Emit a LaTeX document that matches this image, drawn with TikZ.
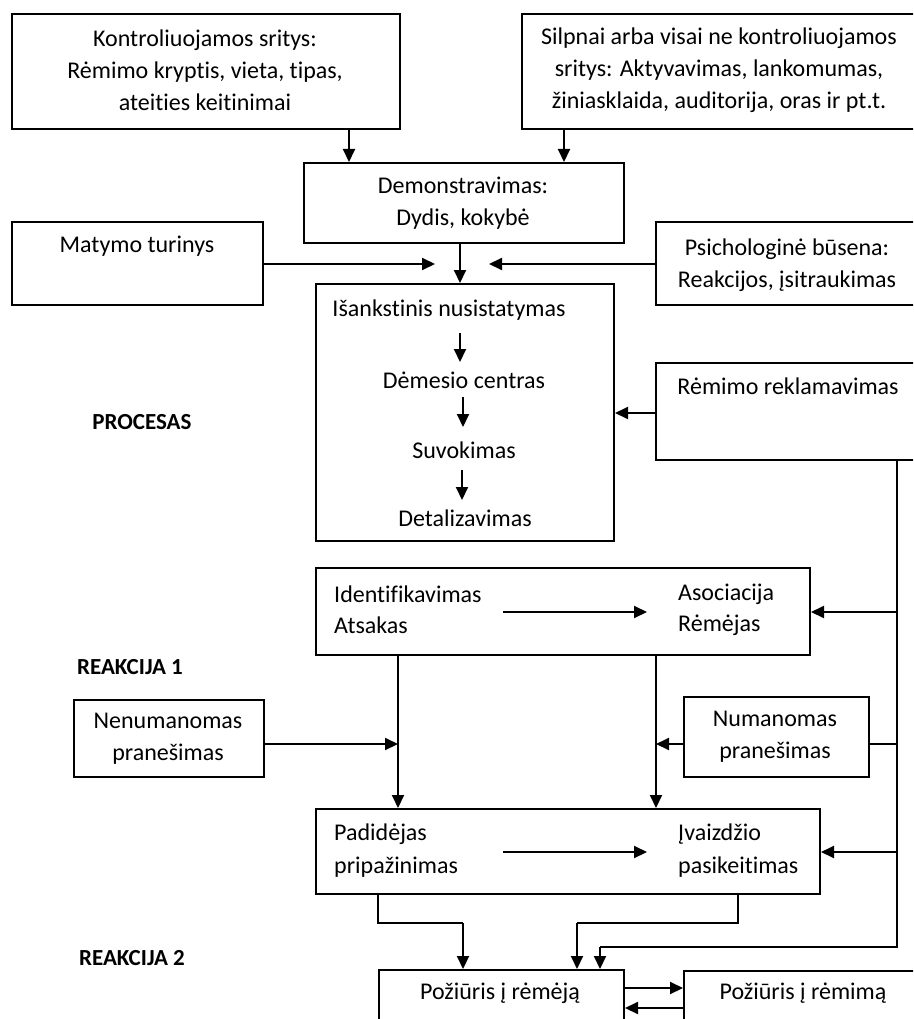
\documentclass[tikz,border=0pt]{standalone}
\usepackage{fontspec}
\setmainfont[Ligatures=NoCommon]{Carlito}
\usetikzlibrary{arrows.meta}
\begin{document}
\begin{tikzpicture}[x=1pt,y=-1pt,
  box/.style={draw,line width=2pt,anchor=north west,inner sep=0pt},
  txt/.style={font=\fontsize{24}{32}\selectfont,inner sep=0pt,anchor=center,align=center},
  ltxt/.style={font=\fontsize{24}{32}\selectfont,inner sep=0pt,anchor=west},
  head/.style={font=\fontsize{23}{32}\selectfont\bfseries,inner sep=0pt,anchor=center},
  arr/.style={line width=2pt,-{Triangle[length=13pt,width=12pt]}},
  ln/.style={line width=2pt}]
\useasboundingbox (0,0) rectangle (913,1019);
\clip (0,0) rectangle (913,1019);
\fill[white] (0,0) rectangle (913,1019);

% boxes
\node[box,minimum width=388pt,minimum height=115pt] (K) at (11,13) {};
\node[box,minimum width=400pt,minimum height=115pt] (S) at (521,13) {};
\node[box,minimum width=320pt,minimum height=80pt] (D) at (303,162) {};
\node[box,minimum width=251pt,minimum height=83pt] (M) at (11,221) {};
\node[box,minimum width=266pt,minimum height=83pt] (P) at (655,221) {};
\node[box,minimum width=298pt,minimum height=257pt] (I) at (315,283) {};
\node[box,minimum width=266pt,minimum height=97pt] (R) at (655,362) {};
\node[box,minimum width=494pt,minimum height=87pt] (ID) at (315,567) {};
\node[box,minimum width=190pt,minimum height=77pt] (N) at (73,699) {};
\node[box,minimum width=185pt,minimum height=80pt] (NU) at (683,696) {};
\node[box,minimum width=504pt,minimum height=85pt] (PA) at (315,808) {};
\node[box,minimum width=245pt,minimum height=90pt] (PR1) at (378,969) {};
\node[box,minimum width=239pt,minimum height=90pt] (PR2) at (683,970) {};

% texts
\node[txt] (tK) at (205,70) {Kontroliuojamos sritys:\\Rėmimo kryptis, vieta, tipas,\\ateities keitinimai};
\node[txt] (tS) at (719,70) {Silpnai arba visai ne kontroliuojamos\\sritys: Aktyvavimas, lankomumas,\\žiniasklaida, auditorija, oras ir pt.t.};
\node[txt] (tD) at (463,203) {Demonstravimas:\\Dydis, kokybė};
\node[txt] (tM) at (137,246) {Matymo turinys};
\node[txt] (tP) at (787,265) {Psichologinė būsena:\\Reakcijos, įsitraukimas};
\node[txt] (i1) at (449,310) {Išankstinis nusistatymas};
\node[txt] (i2) at (464,380) {Dėmesio centras};
\node[txt] (i3) at (464,450) {Suvokimas};
\node[txt] (i4) at (465,518) {Detalizavimas};
\node[txt] (tR) at (788,386) {Rėmimo reklamavimas};
\node[head] (h1) at (142,422) {PROCESAS};
\node[ltxt] (id1) at (334,594) {Identifikavimas};
\node[ltxt] (id2) at (334,625) {Atsakas};
\node[ltxt] (id3) at (678,594) {Asociacija};
\node[ltxt] (id4) at (678,625) {Rėmėjas};
\node[head] (h2) at (130,667) {REAKCIJA 1};
\node[txt] (tN) at (168,739) {Nenumanomas\\pranešimas};
\node[txt] (tNU) at (775,737) {Numanomas\\pranešimas};
\node[ltxt] (pa1) at (334,834) {Padidėjas};
\node[ltxt] (pa2) at (334,867) {pripažinimas};
\node[ltxt] (pa3) at (678,834) {Įvaizdžio};
\node[ltxt] (pa4) at (678,867) {pasikeitimas};
\node[head] (h3) at (132,958) {REAKCIJA 2};
\node[txt] (tPR1) at (500,993) {Požiūris į rėmėją};
\node[txt] (tPR2) at (803,993) {Požiūris į rėmimą};

% helper coordinates
\coordinate (c349) at (349,0);
\coordinate (c564) at (564,0);
\coordinate (c460) at (460,0);
\coordinate (y264) at (0,264);
\coordinate (mEnd) at (435,264);
\coordinate (pEnd) at (489,264);
\coordinate (y413) at (0,413);
\coordinate (c897) at (897,0);
\coordinate (turn1) at (897,947);
\coordinate (c600) at (600,0);
\coordinate (y612) at (0,612);
\coordinate (y744) at (0,744);
\coordinate (y852) at (0,852);
\coordinate (c398) at (398,0);
\coordinate (c656) at (656,0);
\coordinate (j1) at (398,744);
\coordinate (j2) at (656,744);
\coordinate (c378) at (378,0);
\coordinate (c463) at (463,0);
\coordinate (c738) at (738,0);
\coordinate (c577) at (577,0);
\coordinate (y923) at (0,923);
\coordinate (y988) at (0,988);
\coordinate (y1008) at (0,1008);

% connectors
\draw[arr] (K.south -| c349) -- (D.north -| c349);
\draw[arr] (S.south -| c564) -- (D.north -| c564);
\draw[arr] (M.east |- y264) -- (mEnd);
\draw[arr] (P.west |- y264) -- (pEnd);
\draw[arr] (D.south -| c460) -- (I.north -| c460);
\draw[arr] (460,333) -- (460,362);
\draw[arr] (463,397) -- (463,427);
\draw[arr] (462,470) -- (462,500);
\draw[arr] (R.west |- y413) -- (I.east |- y413);
\draw[ln] (R.south -| c897) -- (turn1) -- (turn1 -| c600);
\draw[arr] (turn1 -| c600) -- (PR1.north -| c600);
\draw[arr] (c897 |- y612) -- (ID.east |- y612);
\draw[ln] (NU.east |- y744) -- (c897 |- y744);
\draw[arr] (c897 |- y852) -- (PA.east |- y852);
\draw[arr] (503,612) -- (647,612);
\draw[arr] (503,852) -- (647,852);
\draw[arr] (ID.south -| c398) -- (PA.north -| c398);
\draw[arr] (ID.south -| c656) -- (PA.north -| c656);
\draw[arr] (N.east |- y744) -- (j1);
\draw[arr] (NU.west |- y744) -- (j2);
\draw[ln] (PA.south -| c378) -- (c378 |- y923) -- (c463 |- y923);
\draw[arr] (c463 |- y923) -- (PR1.north -| c463);
\draw[ln] (PA.south -| c738) -- (c738 |- y923) -- (c577 |- y923);
\draw[arr] (c577 |- y923) -- (PR1.north -| c577);
\draw[arr] (PR1.east |- y988) -- (PR2.west |- y988);
\draw[arr] (PR2.west |- y1008) -- (PR1.east |- y1008);
\end{tikzpicture}
\end{document}
